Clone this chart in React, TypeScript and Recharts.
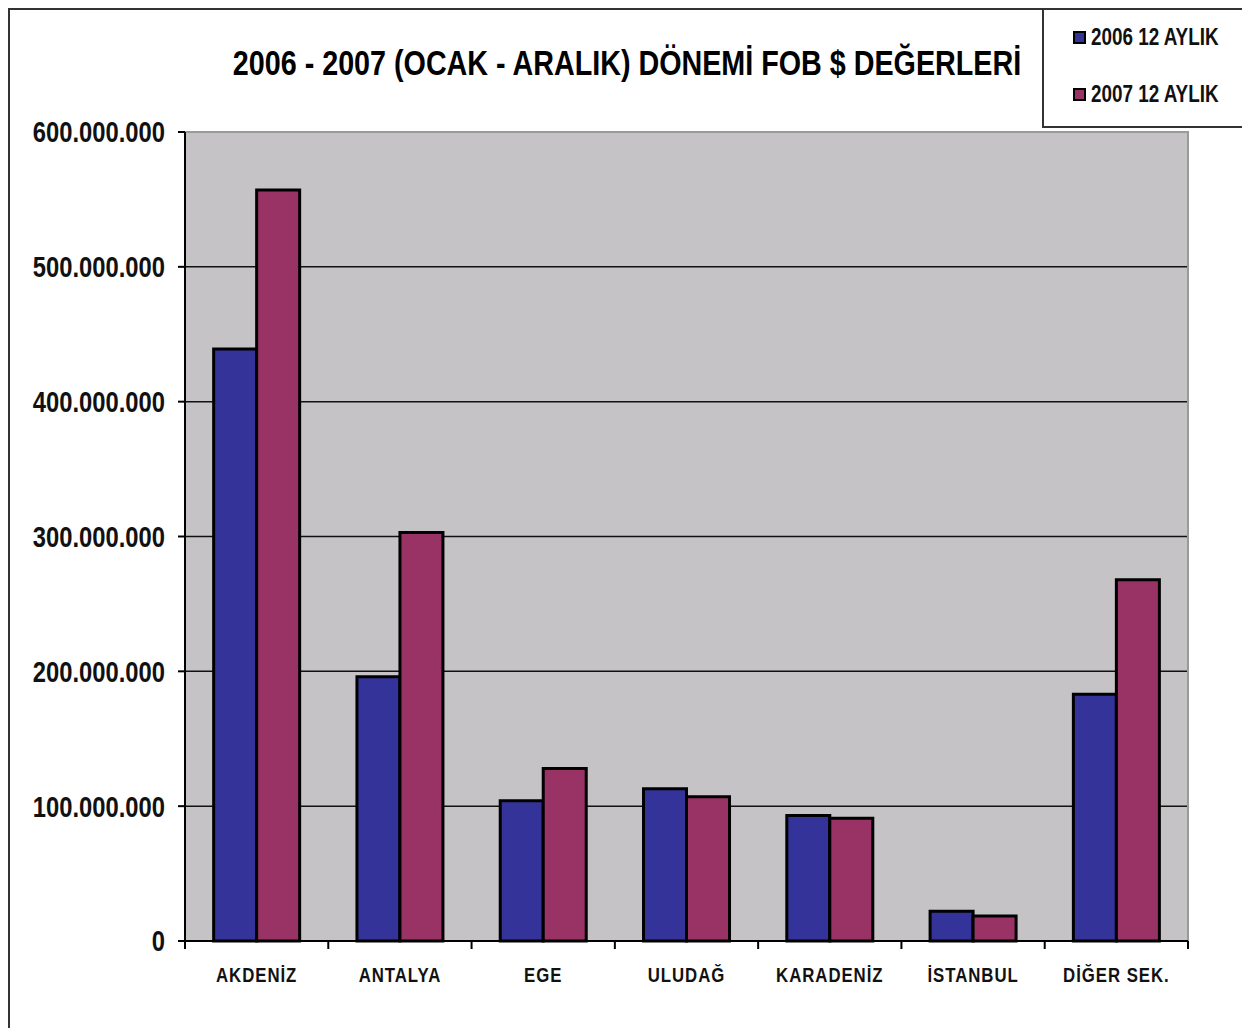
import { Bar, BarChart, CartesianGrid, ReferenceArea, XAxis, YAxis } from "recharts";

const regions = ["AKDENİZ", "ANTALYA", "EGE", "ULUDAĞ", "KARADENİZ", "İSTANBUL", "DİĞER SEK."];
const fob2006 = [439000000, 196000000, 104000000, 113000000, 93000000, 22000000, 183000000];
const fob2007 = [557000000, 303000000, 128000000, 107000000, 91000000, 18500000, 268000000];
const seriesNames = ["2006 12 AYLIK", "2007 12 AYLIK"];
const seriesColors = ["#333399", "#993366"];
const yTicks = [0, 100000000, 200000000, 300000000, 400000000, 500000000, 600000000];

// no Arial Narrow in the sandbox: squeeze Liberation Sans instead
const FONT = "'Liberation Sans', Arial, sans-serif";
const SQUEEZE = 0.82;

const data = regions.map((name, i) => ({ name, y2006: fob2006[i], y2007: fob2007[i] }));

const fmt = (v: number) => String(v).replace(/\B(?=(\d{3})+(?!\d))/g, ".");

function CategoryTick(props: any) {
  const { x, y, payload, index, width, visibleTicksCount } = props;
  const band = width / visibleTicksCount;
  const ok = Number.isFinite(band);
  return (
    <g>
      {ok && <line x1={x - band / 2} x2={x - band / 2} y1={y} y2={y + 8} stroke="#000" strokeWidth={2} />}
      {ok && index === visibleTicksCount - 1 && (
        <line x1={x + band / 2} x2={x + band / 2} y1={y} y2={y + 8} stroke="#000" strokeWidth={2} />
      )}
      <text
        transform={`translate(${x},${y + 41}) scale(0.8,1)`}
        textAnchor="middle"
        fontFamily={FONT}
        fontWeight="bold"
        fontSize={21}
        letterSpacing={1.2}
        fill="#111"
      >
        {payload.value}
      </text>
    </g>
  );
}

function ValueTick(props: any) {
  const { x, y, payload } = props;
  return (
    <text
      transform={`translate(${x},${y}) scale(${SQUEEZE},1)`}
      textAnchor="end"
      dy="0.36em"
      fontFamily={FONT}
      fontWeight="bold"
      fontSize={29}
      fill="#111"
    >
      {fmt(payload.value)}
    </text>
  );
}

export default function App() {
  return (
    <div style={{ position: "relative", width: 1242, height: 1028, overflow: "hidden", background: "#fff" }}>
      <style>{`body{margin:0;overflow:hidden}`}</style>
      <div style={{ position: "absolute", left: 8, top: 8, width: 2000, height: 2000, borderTop: "2px solid #333", borderLeft: "2px solid #333" }} />

      <div
        style={{
          position: "absolute", left: 0, width: 1254, top: 41, textAlign: "center",
          fontFamily: FONT, fontWeight: "bold", fontSize: 35, color: "#000", lineHeight: "44px",
          transform: `scaleX(${SQUEEZE})`, transformOrigin: "627px 0", whiteSpace: "nowrap",
        }}
      >
        2006 - 2007 (OCAK - ARALIK) DÖNEMİ FOB $ DEĞERLERİ
      </div>

      <div style={{ position: "absolute", left: 1042, top: 8, width: 220, height: 116, borderTop: "2px solid #333", borderLeft: "2px solid #333", borderBottom: "2px solid #333", background: "#fff" }}>
        {seriesNames.map((s, i) => (
          <div key={s} style={{ position: "absolute", left: 29, top: 17 + i * 57, display: "flex", alignItems: "center", height: 20 }}>
            <span style={{ width: 9, height: 9, border: "2px solid #000", background: seriesColors[i], display: "inline-block", flex: "none" }} />
            <span
              style={{
                marginLeft: 5, fontFamily: FONT, fontWeight: "bold", fontSize: 23, color: "#111", whiteSpace: "nowrap",
                display: "inline-block", transform: `scaleX(${SQUEEZE})`, transformOrigin: "0 50%",
              }}
            >
              {s}
            </span>
          </div>
        ))}
      </div>

      <div style={{ position: "absolute", left: 0, top: 0 }}>
        <BarChart width={1242} height={1028} data={data} margin={{ top: 132, right: 54, left: 0, bottom: 47 }} barCategoryGap="20%" barGap={0}>
          <CartesianGrid vertical={false} stroke="#111" strokeWidth={1.5} fill="#c5c3c6" fillOpacity={1} />
          <XAxis
            dataKey="name"
            height={40}
            stroke="#000"
            strokeWidth={2}
            tickLine={false}
            tickSize={0}
            tickMargin={0}
            interval={0}
            tick={<CategoryTick />}
          />
          <YAxis
            width={185}
            domain={[0, 600000000]}
            ticks={yTicks}
            tickSize={7}
            tickMargin={13}
            stroke="#000"
            strokeWidth={2}
            tick={<ValueTick />}
            interval={0}
          />
          <ReferenceArea y1={0} y2={600000000} fill="none" stroke="#9a9a9a" strokeWidth={2} />
          <Bar dataKey="y2006" name={seriesNames[0]} fill={seriesColors[0]} stroke="#000" strokeWidth={3} isAnimationActive={false} />
          <Bar dataKey="y2007" name={seriesNames[1]} fill={seriesColors[1]} stroke="#000" strokeWidth={3} isAnimationActive={false} />
        </BarChart>
      </div>
    </div>
  );
}
